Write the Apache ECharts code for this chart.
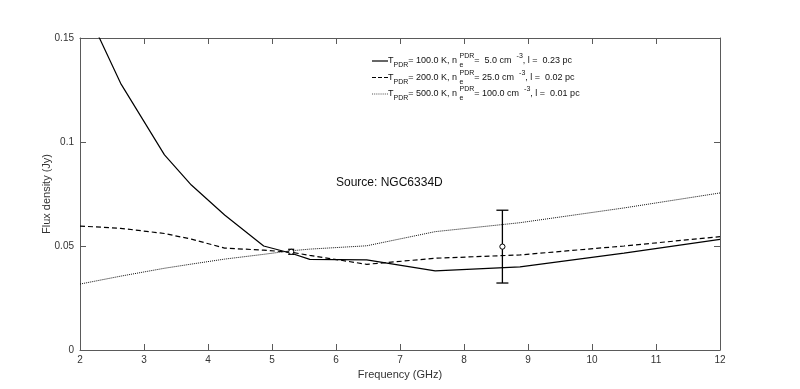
<!DOCTYPE html>
<html>
<head>
<meta charset="utf-8">
<script src="https://cdn.jsdelivr.net/npm/echarts@6/dist/echarts.min.js"></script>
<style>
html,body{margin:0;padding:0;background:#fff;}
#chart{width:800px;height:389px;}
</style>
</head>
<body>
<div id="chart"></div>
<script>
// ---- data ----
const freq = [2.0, 2.635, 3.32, 3.74, 4.26, 4.87, 5.3, 5.59, 6.48, 7.55, 8.875, 10.5, 12.0];
const model100K = [0.170, 0.1282, 0.0938, 0.0793, 0.0649, 0.0500, 0.0465, 0.0436, 0.0433, 0.0380, 0.0400, 0.0466, 0.0532];
const model200K = [0.0596, 0.0585, 0.0560, 0.0533, 0.0490, 0.0480, 0.0470, 0.0455, 0.0412, 0.0441, 0.0457, 0.0500, 0.0545];
const model500K = [0.0317, 0.0355, 0.0393, 0.0413, 0.0437, 0.0460, 0.0477, 0.0485, 0.0501, 0.0569, 0.0612, 0.0683, 0.0755];
const obsFreq = [5.3, 8.6];
const obsFlux = [0.0472, 0.0497];
const obsErr = [0.0012, 0.0175];
const xTicks = [2, 3, 4, 5, 6, 7, 8, 9, 10, 11, 12];
const yTicks = [0, 0.05, 0.1, 0.15];
const seriesNames = [
  'T_PDR = 100.0 K, n_e^PDR = 5.0 cm^-3, l = 0.23 pc',
  'T_PDR = 200.0 K, n_e^PDR = 25.0 cm^-3, l = 0.02 pc',
  'T_PDR = 500.0 K, n_e^PDR = 100.0 cm^-3, l = 0.01 pc'
];
const legendParts = [
  ['100.0', ' 5.0', '0.23'],
  ['200.0', '25.0', '0.02'],
  ['500.0', '100.0', '0.01']
];
const sourceLabel = 'Source: NGC6334D';

const pairs = (xs, ys) => xs.map((x, i) => [x, ys[i]]);
const axisColor = '#5a5a5a';
const textColor = '#333';
const font = 'Liberation Sans, Arial, sans-serif';

const chart = echarts.init(document.getElementById('chart'), null, {renderer: 'canvas'});

const capHalf = [3, 6];
const legendIcons = [
  'path://M0,0H16V1.2H0Z',
  'path://M0,0H4V1.2H0Z M6,0H10V1.2H6Z M12,0H16V1.2H12Z',
  'path://M0,0H1V1H0Z M2,0H3V1H2Z M4,0H5V1H4Z M6,0H7V1H6Z M8,0H9V1H8Z M10,0H11V1H10Z M12,0H13V1H12Z M14,0H15V1H14Z'
];

const option = {
  animation: false,
  backgroundColor: '#fff',
  grid: {left: 80, right: 80, top: 38, bottom: 39, containLabel: false},
  xAxis: [{
    type: 'value', min: xTicks[0], max: xTicks[xTicks.length - 1], interval: 1,
    name: 'Frequency (GHz)', nameLocation: 'middle', nameGap: 19,
    nameTextStyle: {color: textColor, fontSize: 11, fontFamily: font},
    axisLine: {show: true, lineStyle: {color: axisColor, width: 1}},
    axisTick: {show: true, inside: true, length: 6, lineStyle: {color: axisColor}},
    axisLabel: {color: textColor, fontSize: 10, fontFamily: font, margin: 5},
    splitLine: {show: false}
  }, {
    type: 'value', position: 'top', min: xTicks[0], max: xTicks[xTicks.length - 1], interval: 1,
    axisLine: {show: true, onZero: false, lineStyle: {color: axisColor, width: 1}},
    axisTick: {show: true, inside: true, length: 6, lineStyle: {color: axisColor}},
    axisLabel: {show: false}, splitLine: {show: false}
  }],
  yAxis: [{
    type: 'value', min: yTicks[0], max: yTicks[yTicks.length - 1], interval: 0.05,
    name: 'Flux density (Jy)', nameLocation: 'middle', nameGap: 28, nameRotate: 90,
    nameMoveOverlap: false,
    nameTextStyle: {color: textColor, fontSize: 11, fontFamily: font},
    axisLine: {show: true, lineStyle: {color: axisColor, width: 1}},
    axisTick: {show: true, inside: true, length: 6, lineStyle: {color: axisColor}},
    axisLabel: {color: textColor, fontSize: 10, fontFamily: font, margin: 6},
    splitLine: {show: false}
  }, {
    type: 'value', position: 'right', min: yTicks[0], max: yTicks[yTicks.length - 1], interval: 0.05,
    axisLine: {show: true, onZero: false, lineStyle: {color: axisColor, width: 1}},
    axisTick: {show: true, inside: true, length: 6, lineStyle: {color: axisColor}},
    axisLabel: {show: false}, splitLine: {show: false}
  }],
  legend: {
    orient: 'vertical', left: 372, top: 53, padding: 0, itemWidth: 16, itemHeight: 1.2, itemGap: 0.5,
    data: seriesNames.map((n, i) => ({name: n, icon: legendIcons[i]})),
    formatter: function (name) {
      const i = seriesNames.indexOf(name);
      const p = legendParts[i];
      return '{t|T}{sub|PDR}{t|= ' + p[0] + ' K, n }{e|e}{sup|PDR}{t|= ' + p[1] + ' cm  }{sup|-3}{t|, l =  ' + p[2] + ' pc}';
    },
    textStyle: {
      color: '#111', fontFamily: font, fontSize: 9, padding: [0, 0, 0, -5],
      rich: {
        t: {fontSize: 9, fontFamily: font, color: '#111', lineHeight: 16, verticalAlign: 'middle'},
        sub: {fontSize: 7, fontFamily: font, color: '#111', lineHeight: 16, verticalAlign: 'bottom'},
        sup: {fontSize: 7, fontFamily: font, color: '#111', lineHeight: 16, verticalAlign: 'top'},
        e: {fontSize: 7, fontFamily: font, color: '#111', lineHeight: 16, verticalAlign: 'bottom', width: 0}
      }
    }
  },
  graphic: [{
    type: 'text', left: 336, top: 177,
    style: {text: sourceLabel, fill: '#111', fontSize: 12, fontFamily: font}
  }],
  series: [{
    name: seriesNames[0], type: 'line', data: pairs(freq, model100K), symbol: 'none', clip: true,
    lineStyle: {color: '#000', width: 1.2, type: 'solid'}, itemStyle: {color: '#000'}
  }, {
    name: seriesNames[1], type: 'line', data: pairs(freq, model200K), symbol: 'none', clip: true,
    lineStyle: {color: '#000', width: 1.2, type: [5, 3]}, itemStyle: {color: '#000'}
  }, {
    name: seriesNames[2], type: 'line', data: pairs(freq, model500K), symbol: 'none', clip: true,
    lineStyle: {color: '#111', width: 1, type: [1, 1]}, itemStyle: {color: '#555'}
  }, {
    name: 'observed', type: 'custom',
    data: obsFreq.map((f, i) => [f, obsFlux[i], obsErr[i]]),
    renderItem: function (params, api) {
      const x = api.value(0), y = api.value(1), e = api.value(2);
      const c = api.coord([x, y]);
      const top = api.coord([x, y + e]);
      const bot = api.coord([x, y - e]);
      const h = capHalf[params.dataIndex] || 6;
      const ls = {stroke: '#000', lineWidth: 1.3, fill: null};
      return {
        type: 'group',
        children: [
          {type: 'line', shape: {x1: c[0], y1: top[1], x2: c[0], y2: bot[1]}, style: ls},
          {type: 'line', shape: {x1: c[0] - h, y1: top[1], x2: c[0] + h, y2: top[1]}, style: ls},
          {type: 'line', shape: {x1: c[0] - h, y1: bot[1], x2: c[0] + h, y2: bot[1]}, style: ls},
          {type: 'circle', shape: {cx: c[0], cy: c[1], r: 2.6}, style: {stroke: '#000', lineWidth: 1, fill: '#fff'}}
        ]
      };
    },
    z: 5
  }]
};
chart.setOption(option);
</script>
</body>
</html>
